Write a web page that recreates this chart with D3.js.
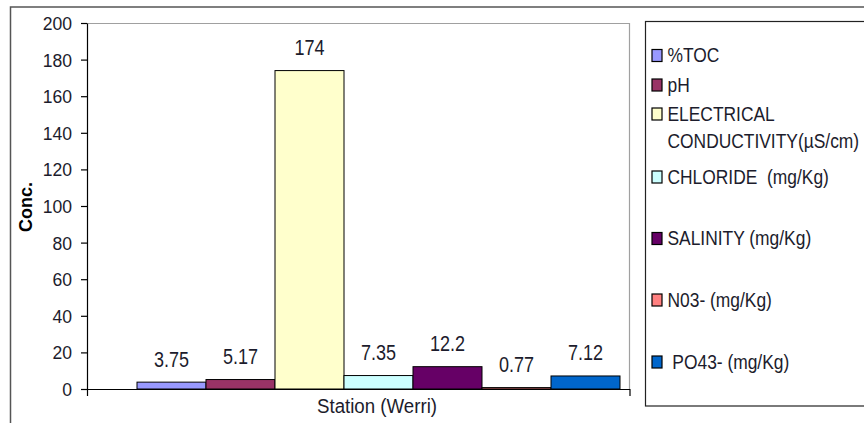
<!DOCTYPE html>
<html>
<head>
<meta charset="utf-8">
<script src="https://cdn.jsdelivr.net/npm/d3@7"></script>
<style>
  html, body { margin: 0; padding: 0; background: #fff; }
  svg { display: block; font-family: Arial, "Liberation Sans", sans-serif; }
</style>
</head>
<body>
<svg id="chart" width="864" height="423"></svg>
<script>
// ---- data ----
const category = "Station (Werri)";
const seriesNames = ["%TOC", "pH", "ELECTRICAL CONDUCTIVITY(µS/cm)", "CHLORIDE  (mg/Kg)", "SALINITY (mg/Kg)", "N03- (mg/Kg)", "PO43- (mg/Kg)"];
const seriesValues = [3.75, 5.17, 174, 7.35, 12.2, 0.77, 7.12];
const valueLabels = ["3.75", "5.17", "174", "7.35", "12.2", "0.77", "7.12"];
const seriesColors = ["#9999FF", "#993366", "#FFFFCC", "#CCFFFF", "#660066", "#FF8080", "#0066CC"];
const legendLines = [["%TOC"], ["pH"], ["ELECTRICAL", "CONDUCTIVITY(µS/cm)"], ["CHLORIDE  (mg/Kg)"], ["SALINITY (mg/Kg)"], ["N03- (mg/Kg)"], [" PO43- (mg/Kg)"]];
const yTicks = [0, 20, 40, 60, 80, 100, 120, 140, 160, 180, 200];
const yTitle = "Conc.";

// ---- layout ----
const plot = { left: 87, right: 629.5, top: 23, bottom: 389 };
const groupSpan = [137, 620];
const legendRowY = [55.5, 85, 114, 177, 238.5, 300, 362];
const textColor = "#1c1c2c";

const svg = d3.select("#chart");

// outer chart border
svg.append("path")
  .attr("d", "M10.5,423 V7 H864")
  .attr("fill", "none").attr("stroke", "#555").attr("stroke-width", 1.5);

const y = d3.scaleLinear().domain([0, 200]).range([plot.bottom, plot.top]);
const x = d3.scaleBand().domain(seriesNames).range(groupSpan).paddingInner(0).paddingOuter(0);

// plot area border (top & right gray)
svg.append("path")
  .attr("d", `M${plot.left},${plot.top + 0.5} H${plot.right} V${plot.bottom}`)
  .attr("fill", "none").attr("stroke", "#a0a0a0").attr("stroke-width", 1.2);

// bars
svg.append("g").selectAll("rect")
  .data(seriesValues)
  .join("rect")
  .attr("x", (d, i) => x(seriesNames[i]))
  .attr("width", x.bandwidth())
  .attr("y", d => y(d))
  .attr("height", d => y(0) - y(d))
  .attr("fill", (d, i) => seriesColors[i])
  .attr("stroke", "#000").attr("stroke-width", 1);

// y axis
const yAxis = svg.append("g")
  .attr("transform", `translate(${plot.left},0)`)
  .call(d3.axisLeft(y).tickValues(yTicks).tickSize(6).tickPadding(9).tickSizeOuter(0));
yAxis.select(".domain").attr("stroke", "#000").attr("stroke-width", 1.2);
yAxis.selectAll(".tick line").attr("stroke", "#000").attr("stroke-width", 1.2);
yAxis.selectAll(".tick text")
  .attr("font-size", 18.5).attr("fill", textColor)
  .attr("font-family", "Arial, 'Liberation Sans', sans-serif")
  .attr("dy", "0.35em")
  .each(function () {
    const t = d3.select(this);
    const xx = +t.attr("x");
    t.attr("x", null).attr("transform", `translate(${xx},0) scale(0.95,1)`);
  });

// x axis (single category)
const xAxisScale = d3.scalePoint().domain(["l", "r"]).range([plot.left, plot.right]);
const xAxis = svg.append("g")
  .attr("transform", `translate(0,${plot.bottom})`)
  .call(d3.axisBottom(xAxisScale).tickSize(7).tickSizeOuter(0).tickFormat(""));
xAxis.select(".domain").attr("stroke", "#000").attr("stroke-width", 1.2);
xAxis.selectAll(".tick line").attr("stroke", "#000").attr("stroke-width", 1.2);

// x category label
svg.append("text")
  .attr("transform", `translate(${(groupSpan[0] + groupSpan[1]) / 2 - 1.5},413) scale(0.89,1)`)
  .attr("text-anchor", "middle")
  .attr("font-size", 21).attr("fill", textColor)
  .text(category);

// value labels
svg.append("g").selectAll("text")
  .data(seriesValues)
  .join("text")
  .attr("transform", (d, i) => `translate(${x(seriesNames[i]) + x.bandwidth() / 2},${y(d) - 15.5}) scale(0.82,1)`)
  .attr("text-anchor", "middle")
  .attr("font-size", 22).attr("fill", textColor)
  .text((d, i) => valueLabels[i]);

// y title
svg.append("text")
  .attr("transform", "translate(31.5,207) rotate(-90)")
  .attr("text-anchor", "middle")
  .attr("font-size", 18).attr("font-weight", "bold").attr("fill", "#000")
  .text(yTitle);

// legend
svg.append("rect")
  .attr("x", 645.5).attr("y", 21.5).attr("width", 240).attr("height", 384.5)
  .attr("fill", "#fff").attr("stroke", "#222").attr("stroke-width", 1.2);

const leg = svg.append("g").selectAll("g")
  .data(seriesNames)
  .join("g")
  .attr("transform", (d, i) => `translate(0,${legendRowY[i]})`);
leg.append("rect")
  .attr("x", 652).attr("y", -6).attr("width", 10).attr("height", 12)
  .attr("fill", (d, i) => seriesColors[i])
  .attr("stroke", "#000").attr("stroke-width", 1.2);
leg.each(function (d, i) {
  const g = d3.select(this);
  legendLines[i].forEach((line, j) => {
    g.append("text")
      .attr("transform", `translate(667.5,${6.5 + j * 27}) scale(0.87,1)`)
      .attr("font-size", 20).attr("fill", textColor)
      .attr("xml:space", "preserve")
      .style("white-space", "pre")
      .text(line);
  });
});
</script>
</body>
</html>
